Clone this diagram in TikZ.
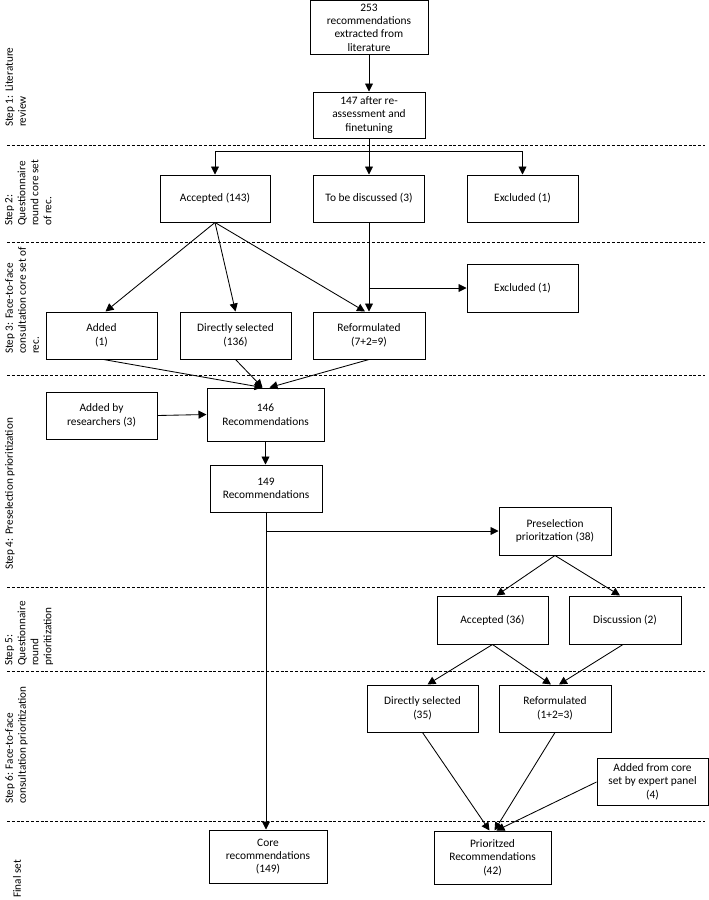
\documentclass[tikz,border=0pt]{standalone}
\usepackage{fontspec}
\setmainfont{Carlito}
\usetikzlibrary{arrows.meta,calc}
\begin{document}
\begin{tikzpicture}[x=1pt,y=-1pt,
 box/.style={draw, line width=1pt, rectangle, align=center, inner sep=1pt, font=\fontsize{11.4}{13.4}\selectfont},
 arr/.style={line width=0.85pt, -{Triangle[length=8pt,width=8pt]}},
 ln/.style={line width=0.85pt},
 sep/.style={line width=0.8pt, dash pattern=on 3pt off 1.8pt},
 steplbl/.style={rotate=90, anchor=north west, align=left, inner sep=0pt, font=\fontsize{11.2}{13}\selectfont}]
\useasboundingbox (0,0) rectangle (709,900);

% separators
\foreach \yy in {145,242,375,587,671,821}{\draw[sep] (7,\yy) -- (705,\yy);}

% step labels
\node[steplbl] (s1) at (5,127) {Step 1: Literature\\review};
\node[steplbl] (s2) at (5,226) {Step 2:\\Questionnaire\\round core set\\of rec.};
\node[steplbl] (s3) at (5,354) {Step 3: Face-to-face\\consultation core set of\\rec.};
\node[steplbl] (s4) at (5,570) {Step 4: Preselection prioritization};
\node[steplbl] (s5) at (5,666) {Step 5:\\Questionnaire\\round\\prioritization};
\node[steplbl] (s6) at (5,804) {Step 6: Face-to-face\\consultation prioritization};
\node[steplbl] (s7) at (13,898) {Final set};

% boxes
\node[box, minimum width=118pt, minimum height=54pt] (b1) at (369,27.5) {253\\recommendations\\extracted from\\literature};
\node[box, minimum width=112pt, minimum height=46pt] (b2) at (369,115) {147 after re-\\assessment and\\finetuning};
\node[box, minimum width=110pt, minimum height=47pt] (acc) at (215,198.5) {Accepted (143)};
\node[box, minimum width=111pt, minimum height=47pt] (tbd) at (369,198.5) {To be discussed (3)};
\node[box, minimum width=111pt, minimum height=47pt] (exc1) at (522.5,198.5) {Excluded (1)};
\node[box, minimum width=111pt, minimum height=48pt] (exc2) at (522.5,288) {Excluded (1)};
\node[box, minimum width=111pt, minimum height=47pt] (added) at (101.5,335.5) {Added\\(1)};
\node[box, minimum width=111pt, minimum height=47pt] (dsel) at (235.5,335.5) {Directly selected\\(136)};
\node[box, minimum width=112pt, minimum height=47pt] (ref) at (369,335.5) {Reformulated\\(7+2=9)};
\node[box, minimum width=117pt, minimum height=53pt] (r146) at (265.5,414.5) {146\\Recommendations};
\node[box, minimum width=111pt, minimum height=47pt] (addres) at (101.5,415.5) {Added by\\researchers (3)};
\node[box, minimum width=112pt, minimum height=47pt] (r149) at (266,488.5) {149\\Recommendations};
\node[box, minimum width=112pt, minimum height=48pt] (pre) at (555,531) {Preselection\\prioritzation (38)};
\node[box, minimum width=111pt, minimum height=48pt] (acc36) at (492.5,620) {Accepted (36)};
\node[box, minimum width=112pt, minimum height=48pt] (disc) at (625,620) {Discussion (2)};
\node[box, minimum width=111pt, minimum height=47pt] (dsel35) at (422.5,708.5) {Directly selected\\(35)};
\node[box, minimum width=112pt, minimum height=47pt] (ref3) at (555,708.5) {Reformulated\\(1+2=3)};
\node[box, minimum width=111pt, minimum height=47pt] (addexp) at (652.5,781.5) {Added from core\\set by expert panel\\(4)};
\node[box, minimum width=118pt, minimum height=53pt] (core) at (268,856.5) {Core\\recommendations\\(149)};
\node[box, minimum width=117pt, minimum height=53pt] (prio) at (492.5,857.5) {Prioritzed\\Recommendations\\(42)};

% connectors step 1-2
\draw[arr] (b1.south) -- (b2.north);
\coordinate (sp1) at (369,151);
\draw[arr] (b2.south) -- (tbd.north);
\draw[arr] (sp1) -| (acc.north);
\draw[arr] (sp1) -| (exc1.north);

% step 3
\draw[arr] (acc.south) -- ($(added.north)+(4,0)$);
\draw[arr] (acc.south) -- (dsel.north);
\draw[arr] (acc.south) -- ($(ref.north)+(-4,0)$);
\draw[arr] (tbd.south) -- (ref.north);
\draw[arr] (tbd.south |- exc2.west) -- (exc2.west);

% step 4
\draw[arr] ($(added.south)+(2,0)$) -- ($(r146.north)+(-3,0)$);
\draw[arr] (dsel.south) -- ($(r146.north)+(-3,0)$);
\draw[arr] (ref.south) -- ($(r146.north)+(4,0)$);
\draw[arr] (addres.east) -- (r146.west);
\draw[arr] (r146.south) -- (r146.south |- r149.north);
\coordinate (sp2) at (r149.south |- pre.west);
\draw[arr] (r149.south) -- (r149.south |- core.north);
\draw[arr] (sp2) -- (pre.west);

% step 5
\draw[arr] (pre.south) -- ($(acc36.north)+(4,0)$);
\draw[arr] (pre.south) -- ($(disc.north)+(-5,0)$);

% step 6
\draw[arr] (acc36.south) -- ($(dsel35.north)+(5,0)$);
\draw[arr] (acc36.south) -- ($(ref3.north)+(-4,0)$);
\draw[arr] ($(disc.south)+(-2,0)$) -- ($(ref3.north)+(4,0)$);

% final
\draw[arr] (dsel35.south) -- ($(prio.north)+(-3,0)$);
\draw[arr] (ref3.south) -- ($(prio.north)+(2,0)$);
\draw[arr] ($(addexp.west)+(0,0.5)$) -- ($(prio.north)+(4,0)$);
\end{tikzpicture}
\end{document}
